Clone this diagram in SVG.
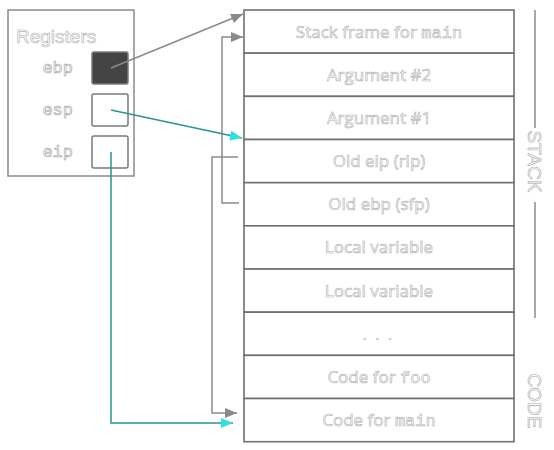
<svg xmlns="http://www.w3.org/2000/svg" width="554" height="450" viewBox="0 0 554 450">
<style>
.lbl{font-family:"Open Sans","Liberation Sans",sans-serif;font-size:17px;fill:#fff;stroke:#b0b0b0;stroke-width:0.6;text-anchor:middle}
.mono{font-family:"Liberation Mono","DejaVu Sans Mono",monospace}
.reg{font-family:"Liberation Mono","DejaVu Sans Mono",monospace;font-size:17px;fill:#fff;stroke:#a0a0a0;stroke-width:0.6;text-anchor:end}
.row{fill:#fff;stroke:#707070;stroke-width:1.6}
.rbox{fill:#fff;stroke:#7a7a7a;stroke-width:1.5}
.g{fill:none;stroke:#8a8a8a;stroke-width:1.5}
.t{fill:none;stroke:#2a9494;stroke-width:1.5}
.side{font-family:"Liberation Sans",sans-serif;font-size:19px;fill:#fff;stroke:#aaa;stroke-width:0.6;text-anchor:middle}
</style>
<defs>
<marker id="ag" markerUnits="userSpaceOnUse" markerWidth="12" markerHeight="10" refX="12" refY="5" orient="auto"><path d="M0,0 L12,5 L0,10 Z" fill="#8a8a8a"/></marker>
<marker id="ac" markerUnits="userSpaceOnUse" markerWidth="12" markerHeight="10" refX="12" refY="5" orient="auto"><path d="M0,0 L12,5 L0,10 Z" fill="#2fe0e0"/></marker>
</defs>
<g id="registers">
<rect x="8" y="10" width="126" height="166" fill="#fff" stroke="#8a8a8a" stroke-width="1.5"/>
<text x="16" y="43" style="font-family:'Liberation Sans',sans-serif;font-size:19px;fill:#fff;stroke:#b0b0b0;stroke-width:0.6">Registers</text>
</g>
<g id="reg-ebp"><text class="reg" x="73" y="73">ebp</text><rect x="92" y="52" width="36" height="32" rx="2" fill="#444" stroke="#7a7a7a" stroke-width="1.5"/></g>
<g id="reg-esp"><text class="reg" x="73" y="115">esp</text><rect class="rbox" x="92" y="94" width="36" height="32" rx="2"/></g>
<g id="reg-eip"><text class="reg" x="73" y="157">eip</text><rect class="rbox" x="92" y="136" width="36" height="32" rx="2"/></g>
<g id="row1"><rect class="row" x="244" y="10" width="270" height="43.17"/><text class="lbl" x="379" y="37.5">Stack frame for <tspan class="mono">main</tspan></text></g>
<g id="row2"><rect class="row" x="244" y="53.17" width="270" height="43.17"/><text class="lbl" x="379" y="80.7">Argument #2</text></g>
<g id="row3"><rect class="row" x="244" y="96.34" width="270" height="43.17"/><text class="lbl" x="379" y="123.8">Argument #1</text></g>
<g id="row4"><rect class="row" x="244" y="139.51" width="270" height="43.17"/><text class="lbl" x="379" y="167">Old eip (rip)</text></g>
<g id="row5"><rect class="row" x="244" y="182.68" width="270" height="43.17"/><text class="lbl" x="379" y="210.2">Old ebp (sfp)</text></g>
<g id="row6"><rect class="row" x="244" y="225.85" width="270" height="43.17"/><text class="lbl" x="379" y="253.3">Local variable</text></g>
<g id="row7"><rect class="row" x="244" y="269.02" width="270" height="43.17"/><text class="lbl" x="379" y="296.5">Local variable</text></g>
<g id="row8"><rect class="row" x="244" y="312.19" width="270" height="43.17"/><text class="lbl" x="379" y="339.5" style="font-size:13px;letter-spacing:3px">. . .</text></g>
<g id="row9"><rect class="row" x="244" y="355.36" width="270" height="43.17"/><text class="lbl" x="379" y="382.8">Code for <tspan class="mono">foo</tspan></text></g>
<g id="row10"><rect class="row" x="244" y="398.53" width="270" height="43.17"/><text class="lbl" x="379" y="426">Code for <tspan class="mono">main</tspan></text></g>
<g id="side-labels">
<line x1="535" y1="10" x2="535" y2="128" stroke="#8a8a8a" stroke-width="1.5"/>
<text class="side" transform="translate(535,161.5) rotate(90)" y="7">STACK</text>
<line x1="535" y1="202" x2="535" y2="318" stroke="#8a8a8a" stroke-width="1.5"/>
<text class="side" transform="translate(535,401) rotate(90)" y="7">CODE</text>
</g>
<g id="connectors">
<line class="g" x1="111" y1="68" x2="243" y2="14" marker-end="url(#ag)"/>
<polyline class="g" points="239,203 222,203 222,37 243,37" marker-end="url(#ag)"/>
<line class="t" x1="111" y1="110" x2="242" y2="138" marker-end="url(#ac)"/>
<polyline class="g" points="238,157 212,157 212,413 237,413" marker-end="url(#ag)"/>
<polyline class="t" points="111,152 111,423 233,423" marker-end="url(#ac)"/>
</g>
</svg>
